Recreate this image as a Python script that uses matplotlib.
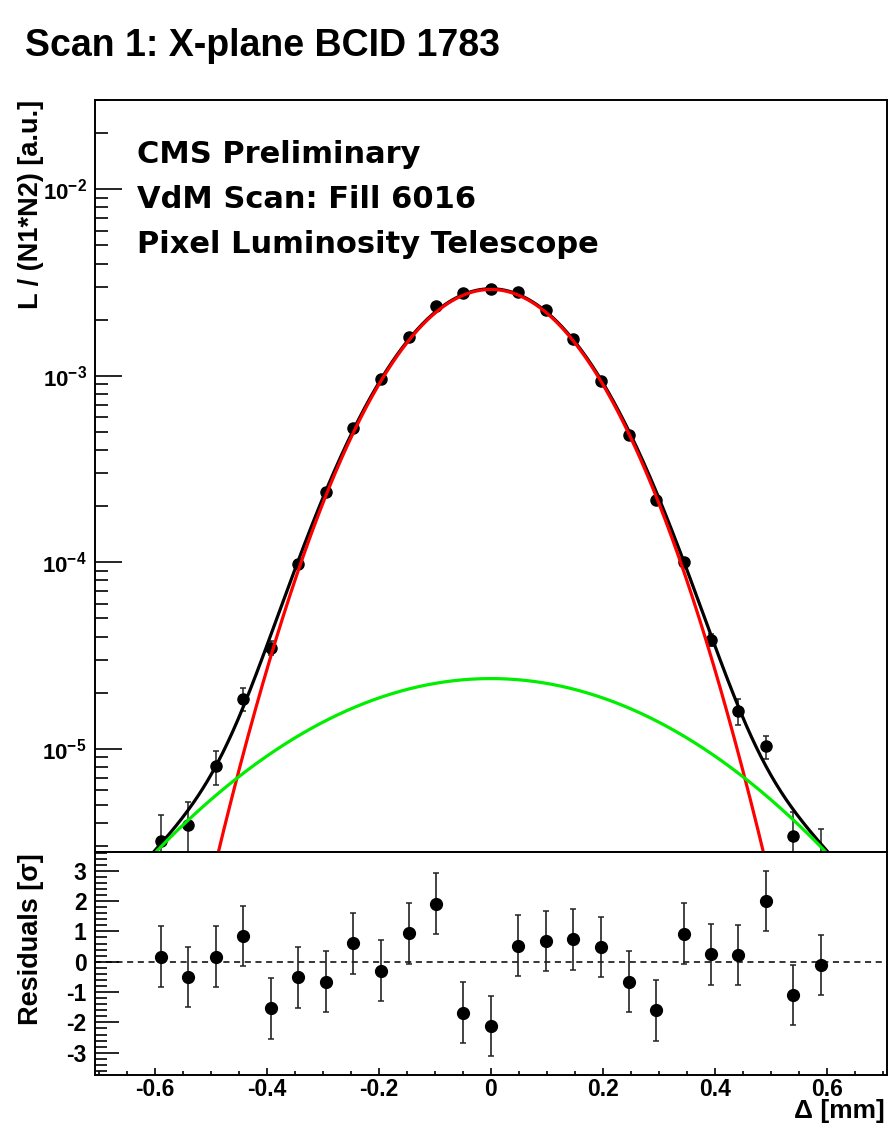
import numpy as np
import matplotlib
matplotlib.use("Agg")
import matplotlib.pyplot as plt
from matplotlib.ticker import LogLocator, NullFormatter, FixedLocator, MultipleLocator

# ---------------- data ----------------
delta_mm = [-0.589, -0.540, -0.491, -0.442, -0.393, -0.344, -0.295, -0.246, -0.196,
            -0.147, -0.098, -0.049, 0.000, 0.049, 0.098, 0.147, 0.196, 0.246,
            0.295, 0.344, 0.393, 0.442, 0.491, 0.540, 0.589]
lumi_norm = [3.22e-6, 3.92e-6, 8.05e-6, 1.85e-5, 3.48e-5, 9.83e-5, 2.38e-4, 5.25e-4, 9.67e-4,
             1.62e-3, 2.36e-3, 2.77e-3, 2.93e-3, 2.82e-3, 2.25e-3, 1.57e-3, 9.35e-4, 4.80e-4,
             2.17e-4, 1.01e-4, 3.84e-5, 1.60e-5, 1.03e-5, 3.39e-6, 2.50e-6]
lumi_err = [1.2e-6, 1.25e-6, 1.67e-6, 2.6e-6, 2.9e-6, 4.5e-6, 7e-6, 1.0e-5, 1.4e-5,
            1.8e-5, 2.2e-5, 2.4e-5, 2.5e-5, 2.4e-5, 2.2e-5, 1.8e-5, 1.4e-5, 1.0e-5,
            7e-6, 4.5e-6, 2.9e-6, 2.5e-6, 1.45e-6, 1.2e-6, 1.2e-6]
residuals = [0.17, -0.50, 0.17, 0.85, -1.54, -0.52, -0.66, 0.61, -0.30, 0.94, 1.91, -1.68,
             -2.12, 0.53, 0.68, 0.74, 0.49, -0.66, -1.60, 0.92, 0.24, 0.22, 2.00, -1.10, -0.11]
residual_err = [1.0] * 25

# double-Gaussian fit parameters
narrow_amp, narrow_mean, narrow_sigma = 2.905e-3, 0.0, 0.1305
wide_amp, wide_mean, wide_sigma = 2.38e-5, 0.0, 0.289

y_tick_values = [1e-5, 1e-4, 1e-3, 1e-2]
y_tick_labels = [r'$\mathbf{10^{-5}}$', r'$\mathbf{10^{-4}}$', r'$\mathbf{10^{-3}}$', r'$\mathbf{10^{-2}}$']
x_tick_values = [-0.6, -0.4, -0.2, 0.0, 0.2, 0.4, 0.6]
x_tick_labels = ['-0.6', '-0.4', '-0.2', '0', '0.2', '0.4', '0.6']
res_tick_values = [-3, -2, -1, 0, 1, 2, 3]
res_tick_labels = ['-3', '-2', '-1', '0', '1', '2', '3']

title = 'Scan 1: X-plane BCID 1783'
cms_lines = ['CMS Preliminary', 'VdM Scan: Fill 6016', 'Pixel Luminosity Telescope']

# ---------------- style ----------------
plt.rcParams['font.family'] = ['Liberation Sans', 'DejaVu Sans']
plt.rcParams['font.weight'] = 'bold'
plt.rcParams['mathtext.fontset'] = 'custom'
plt.rcParams['mathtext.rm'] = 'Liberation Sans:bold'
plt.rcParams['mathtext.bf'] = 'Liberation Sans:bold'
plt.rcParams['mathtext.it'] = 'Liberation Sans:bold'
plt.rcParams['axes.unicode_minus'] = False

W, H = 890, 1126
fig = plt.figure(figsize=(W / 100, H / 100), dpi=100)

def fx(px):
    return px / W

def fy(py):
    return 1 - py / H

L, R = 95, 887
ax = fig.add_axes([fx(L), fy(852), fx(R) - fx(L), fy(100) - fy(852)])
axr = fig.add_axes([fx(L), fy(1075), fx(R) - fx(L), fy(852) - fy(1075)])

XMIN, XMAX = -0.7066, 0.7071
for a in (ax, axr):
    a.set_xlim(XMIN, XMAX)
    for s in a.spines.values():
        s.set_linewidth(1.4)

# ---------------- main panel ----------------
ax.set_yscale('log')
ax.set_ylim(2.797e-6, 3.012e-2)

ax.errorbar(delta_mm, lumi_norm, yerr=lumi_err, fmt='o', color='black', ms=8.0,
            ecolor='#222222', elinewidth=1.1, capsize=2.2, capthick=1.1, zorder=3)

xf = np.linspace(XMIN, XMAX, 800)
narrow = narrow_amp * np.exp(-0.5 * ((xf - narrow_mean) / narrow_sigma) ** 2)
wide = wide_amp * np.exp(-0.5 * ((xf - wide_mean) / wide_sigma) ** 2)
ax.plot(xf, narrow + wide, color='black', lw=2.3, zorder=4)
ax.plot(xf, narrow, color='#ff0000', lw=2.3, zorder=5)
ax.plot(xf, wide, color='#00ee00', lw=2.3, zorder=5)

ax.yaxis.set_major_locator(FixedLocator(y_tick_values))
ax.set_yticklabels(y_tick_labels)
ax.yaxis.set_minor_locator(LogLocator(base=10, subs=np.arange(2, 10), numticks=20))
ax.yaxis.set_minor_formatter(NullFormatter())
ax.tick_params(axis='y', which='major', direction='in', length=19.5, width=1.2,
               labelsize=16, pad=6, right=False)
ax.tick_params(axis='y', which='minor', direction='in', length=9.5, width=1.2, right=False)
ax.tick_params(axis='x', which='both', bottom=False, top=False, labelbottom=False)

# ---------------- residual panel ----------------
axr.set_ylim(-3.735, 3.617)
axr.axhline(0, color='black', lw=1.1, ls=(0, (4, 3)), zorder=1)
axr.errorbar(delta_mm, residuals, yerr=residual_err, fmt='o', color='black', ms=8.5,
             ecolor='#222222', elinewidth=1.2, capsize=2.5, capthick=1.1, zorder=3)
axr.yaxis.set_major_locator(FixedLocator(res_tick_values))
axr.set_yticklabels(res_tick_labels)
axr.yaxis.set_minor_locator(MultipleLocator(0.2))
axr.xaxis.set_major_locator(FixedLocator(x_tick_values))
axr.set_xticklabels(x_tick_labels)
axr.xaxis.set_minor_locator(MultipleLocator(0.05))
axr.tick_params(axis='y', which='major', direction='in', length=17, width=1.2,
                labelsize=16.5, pad=6, right=False)
axr.tick_params(axis='y', which='minor', direction='in', length=8.5, width=1.2, right=False)
axr.tick_params(axis='x', which='major', direction='in', length=5, width=1.2,
                labelsize=16.5, pad=2, top=False)
axr.tick_params(axis='x', which='minor', direction='in', length=3, width=1.2, top=False)

# ---------------- texts ----------------
fig.text(fx(25), fy(56), title, family=['Liberation Sans Narrow', 'Liberation Sans'],
         weight='bold', fontsize=27, va='baseline', ha='left')

for i, line in enumerate(cms_lines):
    fig.text(fx(137), fy(163 + 45 * i), line, family=['DejaVu Sans'],
             weight='bold', fontsize=22, va='baseline', ha='left')

fig.text(fx(31), fy(100), 'L / (N1*N2) [a.u.]', rotation=90, ha='center', va='top',
         fontsize=19.5, weight='bold')
fig.text(fx(31), fy(853), 'Residuals [\u03c3]', rotation=90, ha='center', va='top',
         fontsize=19.5, weight='bold')
fig.text(fx(885), fy(1118), '\u0394 [mm]', ha='right', va='baseline', fontsize=19, weight='bold')

fig.savefig('out.png', dpi=100)
